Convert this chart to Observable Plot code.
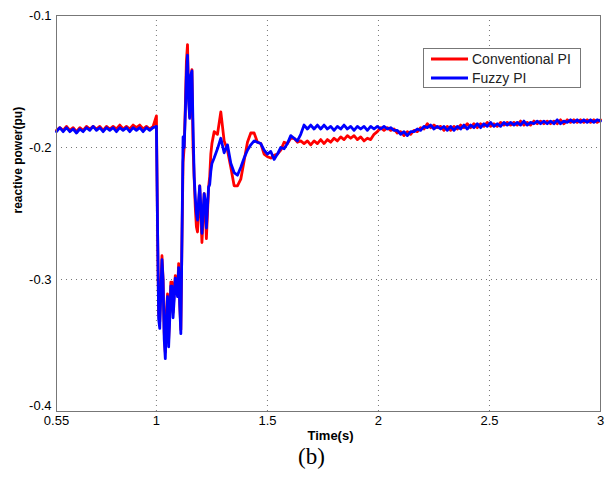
<!DOCTYPE html>
<html>
<head>
<meta charset="utf-8">
<script src="https://cdn.jsdelivr.net/npm/d3@7"></script>
<script src="https://cdn.jsdelivr.net/npm/@observablehq/plot@0.6"></script>
<style>
  html, body { margin: 0; padding: 0; background: #fff; }
  #wrap { position: relative; width: 605px; height: 478px; overflow: hidden; }
  #sub { position: absolute; left: 0; width: 605px; top: 444px; text-align: center; font-family: "Liberation Serif", "DejaVu Serif", serif; font-size: 23px; padding-left: 18px; box-sizing: border-box; }
</style>
</head>
<body>
<div id="wrap"><div id="chart"></div><div id="sub">(b)</div></div>
<script>
const time = [
  0.55,0.565,0.58,0.595,0.61,0.625,0.64,0.655,0.67,0.685,
  0.7,0.715,0.73,0.745,0.76,0.775,0.79,0.805,0.82,0.835,
  0.85,0.865,0.88,0.895,0.91,0.925,0.94,0.955,0.97,0.985,
  1.0,
  1.005,1.01,1.015,1.02,1.025,1.03,1.035,1.04,1.045,1.05,
  1.055,1.06,1.065,1.07,1.075,1.08,1.085,1.09,1.095,1.1,
  1.105,1.11,1.115,1.12,1.125,1.13,1.135,1.14,1.145,1.15,
  1.155,1.16,1.165,1.17,1.175,1.18,1.185,1.19,1.195,1.2,
  1.205,1.21,1.215,1.22,1.225,1.23,1.235,1.24,1.245,1.25,
  1.26,1.275,1.29,1.305,1.32,1.335,1.35,1.365,1.38,1.395,
  1.41,1.425,1.44,1.455,1.47,1.485,1.5,1.515,1.53,1.545,
  1.56,1.575,1.59,1.605,1.62,1.635,1.65,1.665,1.68,1.695,
  1.71,1.725,1.74,1.755,1.77,1.785,1.8,1.815,1.83,1.845,
  1.86,1.875,1.89,1.905,1.92,1.935,1.95,1.965,1.98,1.995,
  2.01,2.025,2.04,2.055,2.07,2.085,2.1,2.115,2.13,2.145,
  2.16,2.175,2.19,2.205,2.22,2.235,2.25,2.265,2.28,2.295,
  2.31,2.325,2.34,2.355,2.37,2.385,2.4,2.415,2.43,2.445,
  2.46,2.475,2.49,2.505,2.52,2.535,2.55,2.565,2.58,2.595,
  2.61,2.625,2.64,2.655,2.67,2.685,2.7,2.715,2.73,2.745,
  2.76,2.775,2.79,2.805,2.82,2.835,2.85,2.865,2.88,2.895,
  2.91,2.925,2.94,2.955,2.97,2.985,3.0
];

const conventionalPI = [
  -0.187,-0.185,-0.187,-0.184,-0.187,-0.185,-0.188,-0.185,-0.187,-0.184,
  -0.186,-0.184,-0.186,-0.184,-0.187,-0.184,-0.186,-0.184,-0.186,-0.183,
  -0.186,-0.184,-0.186,-0.183,-0.185,-0.183,-0.186,-0.184,-0.186,-0.184,
  -0.176,
  -0.260,-0.325,-0.332,-0.305,-0.282,-0.300,-0.340,-0.355,-0.325,-0.311,
  -0.345,-0.325,-0.302,-0.302,-0.325,-0.310,-0.297,-0.302,-0.310,-0.288,
  -0.318,-0.338,-0.270,-0.211,-0.200,-0.170,-0.135,-0.122,-0.160,-0.177,
  -0.148,-0.141,-0.200,-0.223,-0.245,-0.260,-0.264,-0.245,-0.229,-0.250,
  -0.272,-0.255,-0.235,-0.245,-0.269,-0.250,-0.230,-0.222,-0.205,-0.197,
  -0.188,-0.190,-0.173,-0.195,-0.202,-0.215,-0.229,-0.229,-0.224,-0.210,
  -0.196,-0.189,-0.189,-0.196,-0.197,-0.205,-0.207,-0.208,-0.206,-0.205,
  -0.202,-0.196,-0.197,-0.193,-0.193,-0.196,-0.195,-0.197,-0.195,-0.198,
  -0.195,-0.197,-0.194,-0.197,-0.194,-0.196,-0.193,-0.195,-0.192,-0.194,
  -0.191,-0.193,-0.191,-0.194,-0.192,-0.195,-0.193,-0.194,-0.190,-0.188,
  -0.185,-0.187,-0.185,-0.187,-0.186,-0.189,-0.188,-0.191,-0.188,-0.190,
  -0.187,-0.188,-0.185,-0.186,-0.182,-0.185,-0.183,-0.185,-0.184,-0.187,
  -0.184,-0.187,-0.184,-0.186,-0.183,-0.185,-0.182,-0.185,-0.182,-0.185,
  -0.182,-0.184,-0.181,-0.184,-0.182,-0.184,-0.181,-0.183,-0.181,-0.183,
  -0.181,-0.183,-0.180,-0.183,-0.181,-0.183,-0.180,-0.182,-0.180,-0.182,
  -0.180,-0.182,-0.180,-0.182,-0.179,-0.182,-0.179,-0.181,-0.179,-0.181,
  -0.179,-0.181,-0.179,-0.181,-0.179,-0.181,-0.179
];

const fuzzyPI = [
  -0.188,-0.185,-0.188,-0.185,-0.188,-0.186,-0.189,-0.186,-0.188,-0.185,
  -0.187,-0.184,-0.187,-0.185,-0.188,-0.185,-0.187,-0.185,-0.188,-0.185,
  -0.187,-0.185,-0.188,-0.185,-0.187,-0.185,-0.188,-0.185,-0.187,-0.185,
  -0.184,
  -0.260,-0.330,-0.337,-0.310,-0.285,-0.300,-0.345,-0.360,-0.330,-0.313,
  -0.351,-0.330,-0.305,-0.305,-0.329,-0.315,-0.299,-0.305,-0.313,-0.291,
  -0.320,-0.341,-0.270,-0.192,-0.200,-0.175,-0.145,-0.130,-0.165,-0.178,
  -0.145,-0.142,-0.185,-0.222,-0.238,-0.250,-0.255,-0.240,-0.229,-0.245,
  -0.265,-0.250,-0.235,-0.240,-0.261,-0.245,-0.230,-0.228,-0.218,-0.212,
  -0.208,-0.201,-0.193,-0.204,-0.198,-0.212,-0.219,-0.221,-0.215,-0.208,
  -0.202,-0.198,-0.195,-0.196,-0.197,-0.202,-0.205,-0.203,-0.209,-0.205,
  -0.200,-0.201,-0.197,-0.191,-0.193,-0.195,-0.190,-0.183,-0.186,-0.183,
  -0.186,-0.183,-0.186,-0.183,-0.186,-0.184,-0.187,-0.184,-0.186,-0.183,
  -0.186,-0.184,-0.187,-0.184,-0.186,-0.184,-0.187,-0.184,-0.186,-0.184,
  -0.186,-0.184,-0.186,-0.185,-0.187,-0.187,-0.190,-0.188,-0.191,-0.188,
  -0.188,-0.186,-0.187,-0.184,-0.185,-0.183,-0.186,-0.184,-0.186,-0.184,
  -0.187,-0.184,-0.187,-0.184,-0.186,-0.183,-0.186,-0.183,-0.185,-0.182,
  -0.185,-0.182,-0.184,-0.181,-0.184,-0.182,-0.184,-0.181,-0.183,-0.181,
  -0.183,-0.181,-0.183,-0.180,-0.183,-0.181,-0.182,-0.180,-0.182,-0.180,
  -0.182,-0.180,-0.182,-0.179,-0.182,-0.180,-0.181,-0.179,-0.181,-0.179,
  -0.181,-0.179,-0.181,-0.179,-0.181,-0.179,-0.180
];

const seriesNames = ["Conventional PI", "Fuzzy PI"];
const seriesColors = ["#ff0000", "#0000ff"];
const xTicks = [0.55, 1, 1.5, 2, 2.5, 3];
const yTicks = [-0.1, -0.2, -0.3, -0.4];
const xLabel = "Time(s)";
const yLabel = "reactive power(pu)";

const convData = time.map((t, i) => ({t, v: conventionalPI[i]}));
const fuzzyData = time.map((t, i) => ({t, v: fuzzyPI[i]}));

const font = "'Liberation Sans', Arial, Helvetica, sans-serif";

const chart = Plot.plot({
  width: 605,
  height: 445,
  marginLeft: 56,
  marginRight: 5,
  marginTop: 15,
  marginBottom: 34,
  style: {fontFamily: font, fontSize: "13px", color: "#000", background: "#fff"},
  x: {domain: [0.55, 3]},
  y: {domain: [-0.4, -0.1]},
  marks: [
    Plot.gridX([1, 1.5, 2, 2.5], {stroke: "#777", strokeOpacity: 1, strokeDasharray: "1,4", strokeWidth: 1}),
    Plot.gridY([-0.2, -0.3], {stroke: "#777", strokeOpacity: 1, strokeDasharray: "1,4", strokeWidth: 1}),
    Plot.axisX(xTicks, {tickSize: 0, tickPadding: 4, tickFormat: d => String(d), label: null, fontSize: 13}),
    Plot.axisY(yTicks.slice(0, 3), {tickSize: 0, tickPadding: 5, tickFormat: d => d.toFixed(1), label: null, fontSize: 13}),
    Plot.axisY(yTicks.slice(3), {tickSize: 0, tickPadding: 5, tickFormat: d => d.toFixed(1), label: null, fontSize: 13, dy: -6}),
    Plot.line(convData, {x: "t", y: "v", stroke: seriesColors[0], strokeWidth: 2.8}),
    Plot.line(fuzzyData, {x: "t", y: "v", stroke: seriesColors[1], strokeWidth: 2.8}),
    Plot.frame({stroke: "#777", strokeWidth: 1}),
    Plot.text([xLabel], {frameAnchor: "bottom", dy: 28, fontWeight: "bold", fontSize: 13, fill: "#000", dx: 2}),
    Plot.text([yLabel], {frameAnchor: "left", rotate: -90, dx: -38, fontWeight: "bold", fontSize: 12, fill: "#000"})
  ]
});

document.getElementById("chart").appendChild(chart);

// legend
const svg = d3.select(chart);
const lg = svg.append("g").attr("font-family", font).attr("font-size", 14).attr("text-anchor", "start");
lg.append("rect").attr("x", 423.5).attr("y", 48.5).attr("width", 157).attr("height", 39)
  .attr("fill", "#fff").attr("stroke", "#777").attr("stroke-width", 1);
seriesNames.forEach((name, i) => {
  const yy = 59 + i * 19;
  lg.append("line").attr("x1", 431).attr("x2", 468).attr("y1", yy).attr("y2", yy)
    .attr("stroke", seriesColors[i]).attr("stroke-width", 2.8);
  lg.append("text").attr("x", 472).attr("y", yy + 5).attr("fill", "#222")
    .attr("text-anchor", "start").text(name);
});
</script>
</body>
</html>
